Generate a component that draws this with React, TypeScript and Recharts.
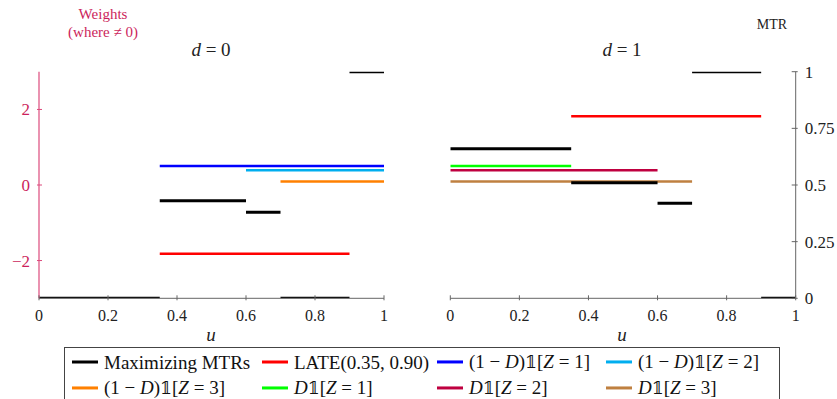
import React from 'react';
import { LineChart, Line, XAxis, YAxis } from 'recharts';

// u cut points shared by the MTR pieces
const U_BREAKS = [0, 0.35, 0.6, 0.7, 0.9, 1];
// maximizing MTR on each piece, per treatment arm
const MTR_D0 = [0, 0.43, 0.38, 0, 1];
const MTR_D1 = [0.66, 0.51, 0.42, 1, 0];

const X_TICKS = [0, 0.2, 0.4, 0.6, 0.8, 1];
const WEIGHT_TICKS = [-2, 0, 2];
const MTR_TICKS = [0, 0.25, 0.5, 0.75, 1];

const SERIES_COLORS = ['#000000', '#ff0000', '#0000ff', '#00aeef', '#ff8000', '#00ff00', '#bf0040', '#bf8040'];

// weight segments (series index, from u, to u, weight)
const WEIGHTS_D0 = [
  { s: 1, from: 0.35, to: 0.9, w: -1.82 },
  { s: 2, from: 0.35, to: 1, w: 0.5 },
  { s: 3, from: 0.6, to: 1, w: 0.39 },
  { s: 4, from: 0.7, to: 1, w: 0.09 },
];
const WEIGHTS_D1 = [
  { s: 1, from: 0.35, to: 0.9, w: 1.82 },
  { s: 5, from: 0, to: 0.35, w: 0.5 },
  { s: 6, from: 0, to: 0.6, w: 0.39 },
  { s: 7, from: 0, to: 0.7, w: 0.09 },
];

const WEIGHT_COLOR = '#cc1f5c';
const WEIGHT_AXIS = '#dc4a7c';
const AXIS_GRAY = '#666';
const FONT = '"Liberation Serif", "DejaVu Serif", serif';

const I = ({ children }: any) => <span style={{ fontStyle: 'italic' }}>{children}</span>;
const ONE = <span style={{ fontFamily: '"DejaVu Serif", "DejaVu Sans", serif', fontSize: '0.9em' }}>𝟙</span>;

const LEGEND_LABELS = [
  <>Maximizing MTRs</>,
  <>LATE(0.35, 0.90)</>,
  <>(1 − <I>D</I>){ONE}[<I>Z</I> = 1]</>,
  <>(1 − <I>D</I>){ONE}[<I>Z</I> = 2]</>,
  <>(1 − <I>D</I>){ONE}[<I>Z</I> = 3]</>,
  <><I>D</I>{ONE}[<I>Z</I> = 1]</>,
  <><I>D</I>{ONE}[<I>Z</I> = 2]</>,
  <><I>D</I>{ONE}[<I>Z</I> = 3]</>,
];

const fmt = (v: number) => (v < 0 ? '\u2212' + Math.abs(v) : String(v));

const XTick = ({ x, y, payload }: any) => (
  <g>
    <line x1={x} x2={x} y1={y} y2={y - 5} stroke={AXIS_GRAY} strokeWidth={1} />
    <text x={x} y={y + 21} textAnchor="middle" fontSize={16} style={{ fontFamily: FONT }} fill="#222">
      {fmt(payload.value)}
    </text>
  </g>
);

const WeightTick = ({ x, y, payload }: any) => (
  <g>
    <line x1={x} x2={x + 5} y1={y} y2={y} stroke={WEIGHT_AXIS} strokeWidth={1} />
    <text x={x - 7} y={y + 6} textAnchor="end" fontSize={17} style={{ fontFamily: FONT }} fill={WEIGHT_COLOR}>
      {fmt(payload.value)}
    </text>
  </g>
);

const MtrTick = ({ x, y, payload }: any) => (
  <g>
    <line x1={x - 6} x2={x} y1={y} y2={y} stroke={AXIS_GRAY} strokeWidth={1} />
    <text x={x + 7} y={y + 6} textAnchor="start" fontSize={17} style={{ fontFamily: FONT }} fill="#222">
      {fmt(payload.value)}
    </text>
  </g>
);

const Panel = ({ mtr, weights, left }: any) => {
  const mtrSegs = mtr.map((v: number, i: number) => [
    { u: U_BREAKS[i], v },
    { u: U_BREAKS[i + 1], v },
  ]);
  const width = left ? 420 : 417;
  const margin = left
    ? { top: 71.7, right: 36, bottom: 11.7, left: 9 }
    : { top: 71.7, right: 0.3, bottom: 11.7, left: 30.3 };
  return (
    <LineChart width={width} height={340} margin={margin}>
      <XAxis
        type="number"
        dataKey="u"
        domain={[0, 1]}
        ticks={X_TICKS}
        interval={0}
        tickSize={0}
        tickLine={false}
        tick={(p: any) => <XTick {...p} />}
        axisLine={{ stroke: AXIS_GRAY, strokeWidth: 1 }}
        height={30}
        allowDataOverflow
      />
      <YAxis
        yAxisId="w"
        orientation="left"
        type="number"
        domain={[-3, 3]}
        ticks={WEIGHT_TICKS}
        interval={0}
        tickSize={0}
        tickLine={false}
        tick={(p: any) => <WeightTick {...p} />}
        axisLine={{ stroke: WEIGHT_AXIS, strokeWidth: 1.2 }}
        width={30}
        hide={!left}
        allowDataOverflow
      />
      <YAxis
        yAxisId="m"
        orientation="right"
        type="number"
        domain={[0, 1]}
        ticks={MTR_TICKS}
        interval={0}
        tickSize={0}
        tickLine={false}
        tick={(p: any) => <MtrTick {...p} />}
        axisLine={{ stroke: AXIS_GRAY, strokeWidth: 1 }}
        width={41}
        hide={left}
        allowDataOverflow
      />
      {weights.map((s: any, i: number) => (
        <Line
          key={'w' + i}
          yAxisId="w"
          data={[{ u: s.from, v: s.w }, { u: s.to, v: s.w }]}
          dataKey="v"
          stroke={SERIES_COLORS[s.s]}
          strokeWidth={2.5}
          dot={false}
          activeDot={false}
          isAnimationActive={false}
        />
      ))}
      {mtrSegs.map((d: any, i: number) => (
        <Line
          key={'m' + i}
          yAxisId="m"
          data={d}
          dataKey="v"
          stroke={SERIES_COLORS[0]}
          strokeWidth={3}
          dot={false}
          activeDot={false}
          isAnimationActive={false}
        />
      ))}
    </LineChart>
  );
};

const Txt = ({ x, y, size, color = '#222', children }: any) => (
  <div
    style={{
      position: 'absolute',
      left: x,
      top: y,
      transform: 'translate(-50%, -50%)',
      fontSize: size,
      color,
      whiteSpace: 'nowrap',
      lineHeight: 1,
    }}
  >
    {children}
  </div>
);

const LEGEND_COL_X = [72, 262, 437, 606];
const LEGEND_ROW_Y = [361.7, 388];

export default function App() {
  return (
    <div
      style={{
        position: 'absolute',
        left: 0,
        top: 0,
        width: 837,
        height: 399,
        overflow: 'hidden',
        background: '#fff',
        fontFamily: FONT,
      }}
    >
      <div style={{ position: 'absolute', left: 0, top: 0 }}>
        <Panel mtr={MTR_D0} weights={WEIGHTS_D0} left />
      </div>
      <div style={{ position: 'absolute', left: 420, top: 0 }}>
        <Panel mtr={MTR_D1} weights={WEIGHTS_D1} left={false} />
      </div>

      <Txt x={103} y={14} size={15} color={WEIGHT_COLOR}>Weights</Txt>
      <Txt x={103} y={32} size={15} color={WEIGHT_COLOR}>(where ≠ 0)</Txt>
      <Txt x={772} y={25} size={14}>MTR</Txt>
      <Txt x={211} y={49} size={19}><I>d</I> = 0</Txt>
      <Txt x={622} y={49} size={19}><I>d</I> = 1</Txt>
      <Txt x={211} y={334} size={19}><I>u</I></Txt>
      <Txt x={622} y={334} size={19}><I>u</I></Txt>

      <div
        style={{
          position: 'absolute',
          left: 64,
          top: 347,
          width: 716,
          height: 70,
          border: '1px solid #444',
          boxSizing: 'border-box',
        }}
      />
      {LEGEND_LABELS.map((lab, i) => (
        <div
          key={i}
          style={{
            position: 'absolute',
            left: LEGEND_COL_X[i % 4],
            top: LEGEND_ROW_Y[Math.floor(i / 4)],
            transform: 'translateY(-50%)',
            display: 'flex',
            alignItems: 'center',
            fontSize: 19,
            lineHeight: 1,
            whiteSpace: 'nowrap',
            color: '#111',
          }}
        >
          <span style={{ display: 'inline-block', width: 26, height: 3, background: SERIES_COLORS[i], marginRight: 6 }} />
          <span>{lab}</span>
        </div>
      ))}
    </div>
  );
}
